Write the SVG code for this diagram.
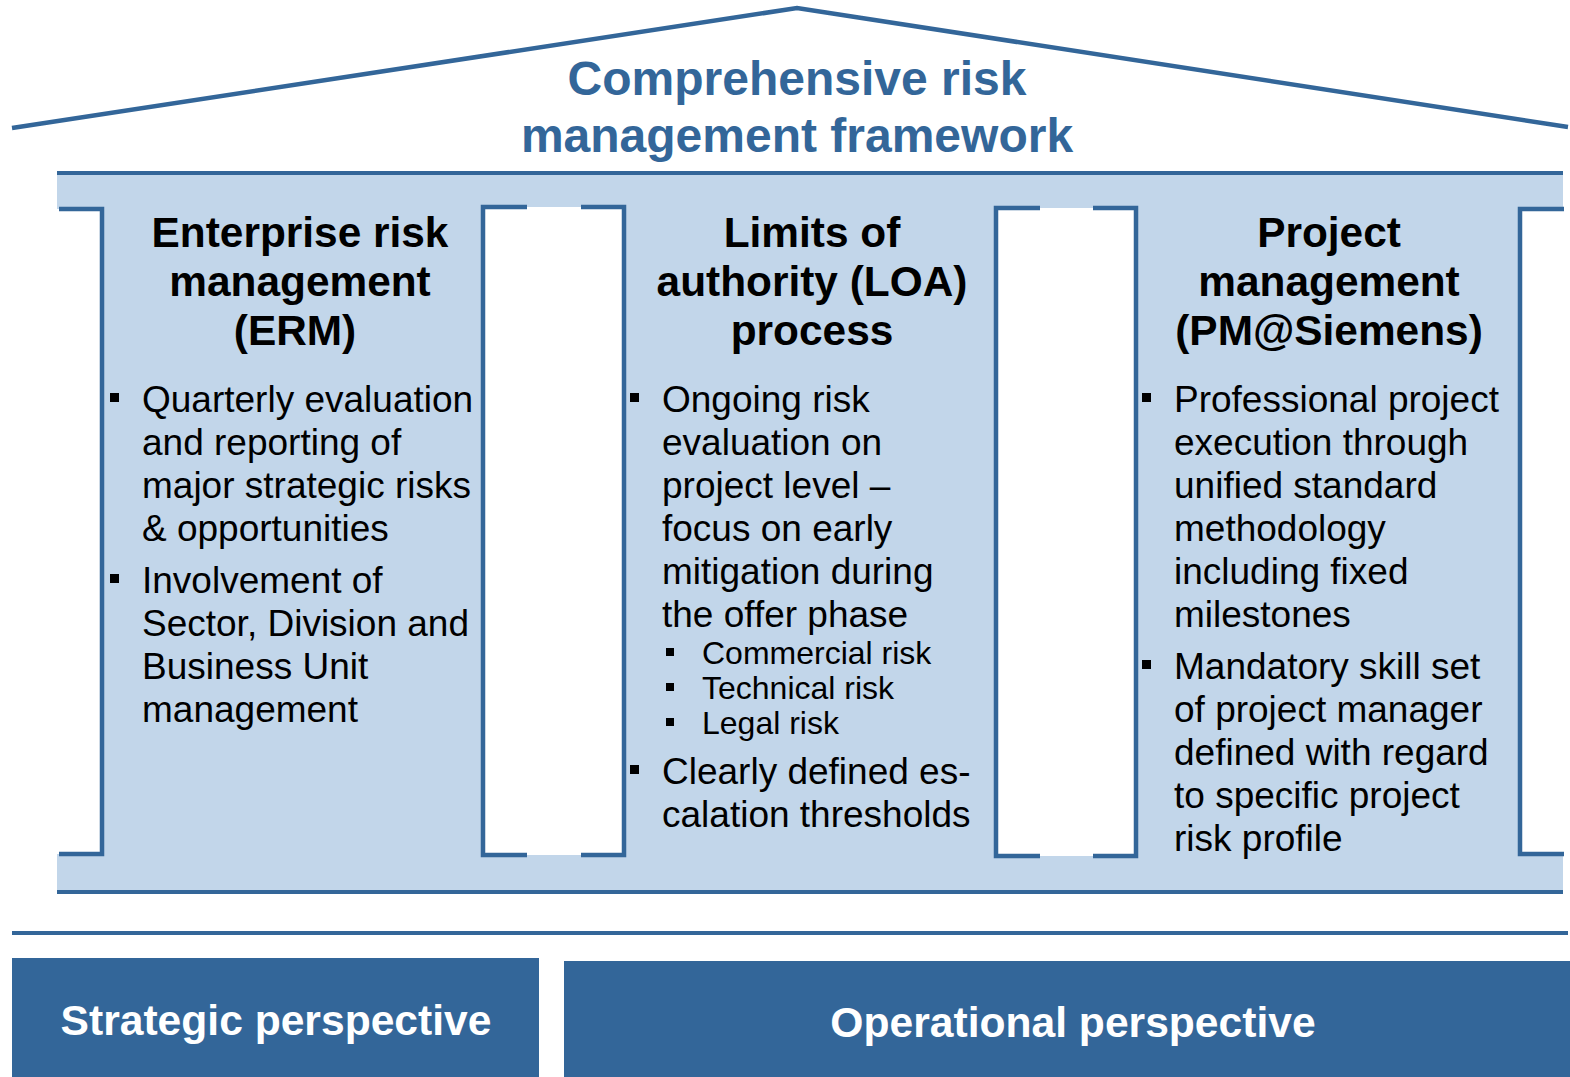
<svg xmlns="http://www.w3.org/2000/svg" width="1570" height="1077" viewBox="0 0 1570 1077">
<style>
.dk{fill:none;stroke:#336699;stroke-width:4.5}
.ln{stroke:#336699;stroke-width:4}
.light{fill:#c2d6ea}
.wh{fill:#ffffff}
.title{font-family:"Liberation Sans",Arial,sans-serif;font-weight:bold;font-size:48px;fill:#336699;text-anchor:middle}
.head{font-family:"Liberation Sans",Arial,sans-serif;font-weight:bold;font-size:42.4px;fill:#000;text-anchor:middle}
.body{font-family:"Liberation Sans",Arial,sans-serif;font-size:37px;fill:#000}
.sub{font-family:"Liberation Sans",Arial,sans-serif;font-size:32px;fill:#000}
.box{fill:#336699}
.boxt{font-family:"Liberation Sans",Arial,sans-serif;font-weight:bold;font-size:42.6px;fill:#fff;text-anchor:middle}
</style>
<rect width="1570" height="1077" fill="#fff"/>
<g id="roof">
<polyline class="dk" points="12,128 797,8 1568,127"/>
<text class="title" x="797" y="95">Comprehensive risk</text>
<text class="title" x="797" y="152">management framework</text>
</g>
<g id="frame">
<rect class="light" x="57" y="173" width="1506" height="719"/>
<rect class="wh" x="0" y="209" width="102" height="645"/>
<rect class="wh" x="1520" y="209" width="50" height="645"/>
<rect class="wh" x="483" y="207" width="141" height="648"/>
<rect class="wh" x="996" y="208" width="140" height="648"/>
<line class="ln" x1="57" y1="173" x2="1563" y2="173"/>
<line class="ln" x1="57" y1="892" x2="1563" y2="892"/>
</g>
<g id="connectors">
<path class="dk" d="M59,209 H102 V854 H59"/>
<path class="dk" d="M1564,209 H1520 V854 H1564"/>
<path class="dk" d="M527,207 H483 V855 H527"/>
<path class="dk" d="M581,207 H624 V855 H581"/>
<path class="dk" d="M1040,208 H996 V856 H1040"/>
<path class="dk" d="M1093,208 H1136 V856 H1093"/>
<line class="ln" x1="12" y1="933" x2="1568" y2="933"/>
</g>
<g id="erm">
<text class="head" x="300" y="247">Enterprise risk</text>
<text class="head" x="300" y="296">management</text>
<text class="head" x="295" y="345">(ERM)</text>
<rect x="110" y="393" width="9" height="9"/>
<rect x="110" y="574" width="9" height="9"/>
<text class="body" x="142" y="412">Quarterly evaluation</text>
<text class="body" x="142" y="455">and reporting of</text>
<text class="body" x="142" y="498">major strategic risks</text>
<text class="body" x="142" y="541">&amp; opportunities</text>
<text class="body" x="142" y="593">Involvement of</text>
<text class="body" x="142" y="636">Sector, Division and</text>
<text class="body" x="142" y="679">Business Unit</text>
<text class="body" x="142" y="722">management</text>
</g>
<g id="loa">
<text class="head" x="812" y="247">Limits of</text>
<text class="head" x="812" y="296">authority (LOA)</text>
<text class="head" x="812" y="345">process</text>
<rect x="630" y="393" width="9" height="9"/>
<text class="body" x="662" y="412">Ongoing risk</text>
<text class="body" x="662" y="455">evaluation on</text>
<text class="body" x="662" y="498">project level –</text>
<text class="body" x="662" y="541">focus on early</text>
<text class="body" x="662" y="584">mitigation during</text>
<text class="body" x="662" y="627">the offer phase</text>
<rect x="666" y="648" width="8" height="8"/>
<rect x="666" y="683" width="8" height="8"/>
<rect x="666" y="718" width="8" height="8"/>
<text class="sub" x="702" y="664">Commercial risk</text>
<text class="sub" x="702" y="699">Technical risk</text>
<text class="sub" x="702" y="734">Legal risk</text>
<rect x="630" y="765" width="9" height="9"/>
<text class="body" x="662" y="784">Clearly defined es-</text>
<text class="body" x="662" y="827">calation thresholds</text>
</g>
<g id="pm">
<text class="head" x="1329" y="247">Project</text>
<text class="head" x="1329" y="296">management</text>
<text class="head" x="1329" y="345">(PM@Siemens)</text>
<rect x="1142" y="393" width="9" height="9"/>
<text class="body" x="1174" y="412">Professional project</text>
<text class="body" x="1174" y="455">execution through</text>
<text class="body" x="1174" y="498">unified standard</text>
<text class="body" x="1174" y="541">methodology</text>
<text class="body" x="1174" y="584">including fixed</text>
<text class="body" x="1174" y="627">milestones</text>
<rect x="1142" y="660" width="9" height="9"/>
<text class="body" x="1174" y="679">Mandatory skill set</text>
<text class="body" x="1174" y="722">of project manager</text>
<text class="body" x="1174" y="765">defined with regard</text>
<text class="body" x="1174" y="808">to specific project</text>
<text class="body" x="1174" y="851">risk profile</text>
</g>
<g id="strategic">
<rect class="box" x="12" y="958" width="527" height="119"/>
<text class="boxt" x="276" y="1035">Strategic perspective</text>
</g>
<g id="operational">
<rect class="box" x="564" y="961" width="1006" height="116"/>
<text class="boxt" x="1073" y="1037">Operational perspective</text>
</g>
</svg>
